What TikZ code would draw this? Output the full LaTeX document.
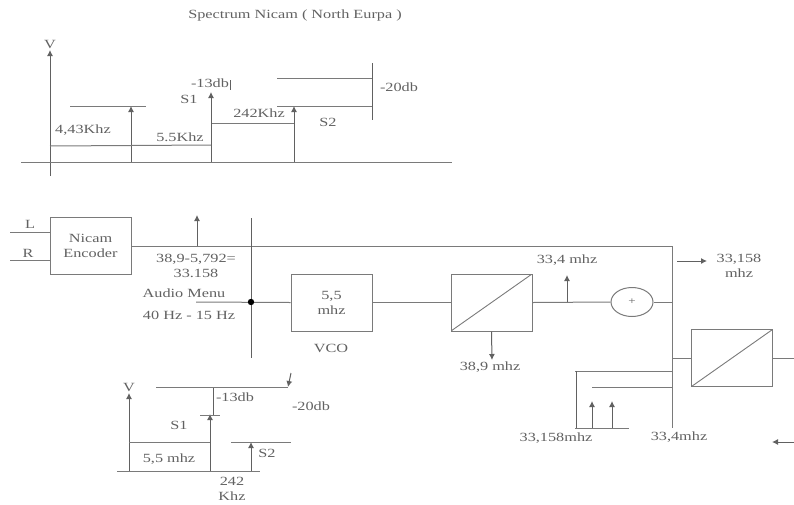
\documentclass[tikz,border=0pt]{standalone}
\usepackage{fontspec}
\setmainfont[FakeStretch=1.3]{Liberation Serif}
\usepackage{xcolor}
\usetikzlibrary{arrows.meta,positioning,shapes.geometric,calc}
\definecolor{wirecol}{gray}{0.48}
\definecolor{textcol}{gray}{0.38}
\tikzset{
  wire/.style={draw=wirecol, line width=1pt},
  axis/.style={draw=black!62, line width=1pt},
  tipup/.style={axis, -{Latex[length=6pt,width=6pt]}},
  lbl/.style={text=textcol, font=\fontsize{12.5}{14.5}\selectfont, inner sep=0pt, align=center},
  blockbox/.style={wire, fill=white, minimum width=81pt, minimum height=57pt, inner sep=0pt, text=textcol,
    font=\fontsize{12.5}{15}\selectfont, align=center},
  mixerbox/.style={blockbox, path picture={
    \draw[wirecol, line width=0.9pt] (path picture bounding box.south west) -- (path picture bounding box.north east);}},
}
\begin{document}
\begin{tikzpicture}[x=1pt, y=-1pt]
  \useasboundingbox (0,0) rectangle (794,504);

  % Spectrum Nicam
  \node[lbl] (title) at (295,15) {Spectrum Nicam ( North Eurpa )};
  \draw[tipup] (50,176) -- (50,50) node[above=1pt, lbl] (topv) {V};
  \draw[wire] (21,162) -- (452,162);
  \draw[tipup] (131,162) -- (131,106);
  \draw[tipup] (211,162) -- (211,92);
  \draw[tipup] (294,162) -- (294,106);
  \draw[wire] (70,106) -- (146,106);
  \draw[wire] (50,146) -- (211,145);
  \draw[wire] (212,123) -- (294,123);
  \draw[wire] (277,78) -- (372,78);
  \draw[wire] (277,106) -- (372,106);
  \draw[axis] (372,63) -- (372,120);
  \draw[axis] (230,80) -- (230,90);
  \node[lbl] (f1) at (83,130) {4,43Khz};
  \node[lbl] (f2) at (180,137) {5.5Khz};
  \node[lbl] (f3) at (259,113) {242Khz};
  \node[lbl] (s1top) at (189,99) {S1};
  \node[lbl] (s2top) at (328,122) {S2};
  \node[lbl] (db1) at (210,83) {-13db};
  \node[lbl] (db2) at (399,87) {-20db};

  % Blocks
  \node[blockbox] (encoder) at (90.5,246) {Nicam\\Encoder};
  \node[blockbox] (vco) at (331.5,302.5) {5,5\\mhz};
  \node[mixerbox] (mixa) at (491.5,302.5) {};
  \node[mixerbox] (mixb) at (732,358) {};
  \node[ellipse, wire, minimum width=42pt, minimum height=29pt, inner sep=0pt, text=textcol] (adder) at (632,302) {+};
  \node[lbl] (vcolbl) at (331,348) {VCO};

  % Free ends
  \coordinate (inl) at (10,232);
  \coordinate (inr) at (10,260);
  \coordinate (corner) at (672,246);
  \coordinate (railend) at (672,428);
  \coordinate (audio) at (196,302);
  \coordinate (dot) at (251,302);

  % Connectors
  \draw[wire] (inl) -- (inl -| encoder.west);
  \draw[wire] (inr) -- (inr -| encoder.west);
  \draw[wire] (encoder.east) -- (corner) -- (railend);
  \draw[wire] (audio) -- (vco.west);
  \draw[wire] (vco.east) -- (mixa.west);
  \draw[wire] (mixa.east) -- (adder.west);
  \draw[wire] (adder.east) -- (adder.east -| corner);
  \draw[wire] (mixb.west -| corner) -- (mixb.west);
  \draw[wire] (mixb.east) -- (794,358);
  \draw[axis] (251,218) -- (251,358);
  \fill[black] (dot) circle (3.2pt);
  \draw[tipup] (197,246) -- (197,215);
  \draw[tipup] (mixa.south) -- (492,360);
  \draw[tipup] (567,302) -- (567,275);
  \draw[tipup] (677,261) -- (707,261);
  \draw[tipup] (794,442) -- (772,442);

  % Sidebar feeds
  \draw[wire] (575,371) -- (672,371);
  \draw[wire] (592,387) -- (672,387);
  \draw[axis] (576,371) -- (576,428);
  \draw[wire] (575,428) -- (629,428);
  \draw[tipup] (592,428) -- (592,401);
  \draw[tipup] (612,428) -- (612,401);

  % Labels
  \node[lbl] (inllbl) at (30,224) {L};
  \node[lbl] (inrlbl) at (28,253) {R};
  \node[lbl] (sum) at (196,266) {38,9-5,792=\\33.158};
  \node[lbl] (menu) at (184,293) {Audio Menu};
  \node[lbl] (range) at (189,315) {40 Hz - 15 Hz};
  \node[lbl] (mixout) at (490,367) {38,9 mhz};
  \node[lbl] (addin) at (567,260) {33,4 mhz};
  \node[lbl] (out) at (739,266) {33,158\\mhz};
  \node[lbl] (fa) at (556,438) {33,158mhz};
  \node[lbl] (fb) at (679,437) {33,4mhz};

  % Spectrum below
  \draw[tipup] (129,471) -- (129,393) node[above=1pt, lbl] (lowv) {V};
  \draw[wire] (117,471) -- (260,471);
  \draw[wire] (129,442) -- (210,442);
  \draw[tipup] (210,471) -- (210,414);
  \draw[wire] (200,415) -- (220,415);
  \draw[axis] (213,415) -- (213,387);
  \draw[wire] (156,387) -- (288,387);
  \draw[tipup] (291,373) -- (288,387);
  \draw[tipup] (251,471) -- (251,442);
  \draw[wire] (231,442) -- (291,442);
  \node[lbl] (db3) at (235,397) {-13db};
  \node[lbl] (db4) at (311,406) {-20db};
  \node[lbl] (s1low) at (179,425) {S1};
  \node[lbl] (s2low) at (267,453) {S2};
  \node[lbl] (f4) at (169,459) {5,5 mhz};
  \node[lbl] (f5) at (232,489) {242\\Khz};
\end{tikzpicture}
\end{document}
